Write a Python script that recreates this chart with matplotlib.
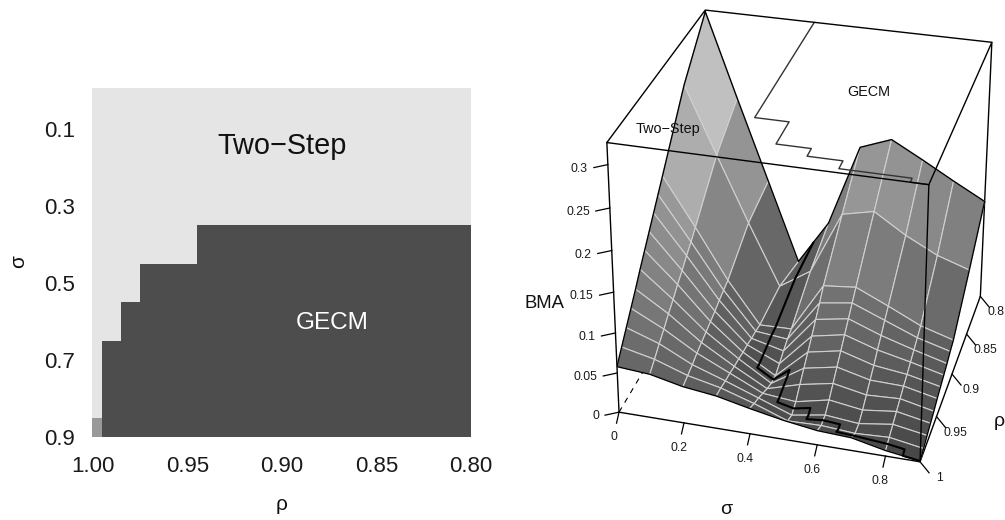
import numpy as np
import matplotlib
matplotlib.use("Agg")
import matplotlib.pyplot as plt
from matplotlib.colors import ListedColormap
from matplotlib.patches import Polygon

plt.rcParams['font.family'] = ['Liberation Sans', 'DejaVu Sans']

# left panel: winner map
rho_map = [1.00, 0.99, 0.98, 0.97, 0.96, 0.95, 0.94, 0.93, 0.92, 0.91, 0.90,
           0.89, 0.88, 0.87, 0.86, 0.85, 0.84, 0.83, 0.82, 0.81, 0.80]
sigma_map = [0.0, 0.1, 0.2, 0.3, 0.4, 0.5, 0.6, 0.7, 0.8, 0.9]
two_step_cols = [21, 21, 21, 21, 6, 3, 2, 1, 1, 1]  # columns won by Two-Step in each sigma row
mixed_cell = (9, 0)
map_ticks_rho = [1.00, 0.95, 0.90, 0.85, 0.80]
map_ticks_sigma = [0.1, 0.3, 0.5, 0.7, 0.9]

# right panel: BMA surface
sigma_grid = [0.0, 0.1, 0.2, 0.3, 0.4, 0.5, 0.6, 0.7, 0.8, 0.9]
rho_grid = [1.00, 0.99, 0.98, 0.97, 0.96, 0.95, 0.94, 0.93, 0.92, 0.91, 0.90, 0.85, 0.80]
bma = [
    [.058, .072, .086, .100, .114, .129, .143, .157, .171, .185, .199, .270, .323],
    [.055, .063, .072, .080, .089, .097, .106, .114, .123, .131, .140, .187, .218],
    [.046, .049, .052, .056, .059, .062, .065, .068, .072, .075, .078, .105, .115],
    [.041, .040, .038, .037, .035, .034, .032, .031, .029, .028, .026, .027, .012],
    [.032, .027, .023, .018, .013, .009, .008, .013, .019, .024, .027, .053, .070],
    [.024, .012, .008, .014, .025, .035, .045, .055, .066, .077, .089, .133, .175],
    [.018, .013, .015, .023, .033, .043, .053, .063, .073, .083, .093, .142, .190],
    [.016, .010, .011, .017, .025, .033, .041, .050, .058, .067, .075, .117, .169],
    [.007, .012, .017, .022, .027, .032, .036, .041, .046, .051, .056, .097, .147],
    [.001, .005, .010, .014, .018, .023, .027, .031, .035, .040, .044, .084, .126],
]
z_top = 0.325
boundary_sigma = [.35, .35, .45, .45, .55, .55, .65, .65, .85, .85, .90]
boundary_rho = [.80, .945, .945, .975, .975, .985, .985, .995, .995, 1.0, 1.0]
sigma_ticks = [0, 0.2, 0.4, 0.6, 0.8]
rho_ticks = [1, 0.95, 0.9, 0.85, 0.8]
z_ticks = [0, 0.05, 0.1, 0.15, 0.2, 0.25, 0.3]

# pixel positions of the box corners, used to fit the camera
box_3d = [(0, 1, 0), (.9, 1, 0), (.9, .8, 0), (0, .8, 0),
          (0, 1, z_top), (.9, 1, z_top), (.9, .8, z_top), (0, .8, z_top)]
box_px = [(620, 414), (920, 461), (980, 298), (710, 255),
          (606.7, 143), (928, 183), (993, 42.7), (705, 10.7)]

W, H = 1005, 520
fig = plt.figure(figsize=(W / 100, H / 100), dpi=100)

# ---- left panel
ax = fig.add_axes([92 / W, 1 - 437 / H, 379 / W, 349 / H])
winner = np.ones((len(sigma_map), len(rho_map)))
for i, n in enumerate(two_step_cols):
    winner[i, :n] = 0
winner[mixed_cell] = 2
cmap = ListedColormap(['#e5e5e5', '#4d4d4d', '#999999'])
ax.pcolormesh(rho_map, sigma_map, winner, cmap=cmap, vmin=0, vmax=2, shading='nearest')
ax.set_xlim(1.0005, 0.8)
ax.set_ylim(0.9, -0.0065)
for s in ax.spines.values():
    s.set_visible(False)
ax.set_xticks(map_ticks_rho, ['%.2f' % v for v in map_ticks_rho])
ax.set_yticks(map_ticks_sigma, ['%.1f' % v for v in map_ticks_sigma])
ax.tick_params(length=0, labelsize=16, colors='#1a1a1a')
ax.tick_params(axis='x', pad=14)
ax.tick_params(axis='y', pad=12)
ax.text(0.9, 0.145, 'Two\u2212Step', fontsize=20.8, ha='center', va='center', color='#111111')
ax.text(0.8735, 0.603, 'GECM', fontsize=17.5, ha='center', va='center', color='white')

# ---- right panel, drawn in pixel coordinates after projecting
ov = fig.add_axes([0, 0, 1, 1], facecolor='none')
ov.set_xlim(0, W)
ov.set_ylim(H, 0)
ov.axis('off')

A = []
b = []
for (x, y, z), (u, v) in zip(box_3d, box_px):
    A.append([x, y, z, 1, 0, 0, 0, 0, -u * x, -u * y, -u * z])
    A.append([0, 0, 0, 0, x, y, z, 1, -v * x, -v * y, -v * z])
    b += [u, v]
p = np.linalg.lstsq(np.array(A, float), np.array(b, float), rcond=None)[0]
P = np.append(p, 1).reshape(3, 4)


def project(sig, rho, z):
    q = P @ np.array([sig, rho, z, 1.0])
    return q[0] / q[2], q[1] / q[2]


def line3d(sig, rho, z, **kw):
    pts = [project(a, b_, c) for a, b_, c in zip(sig, rho, z)]
    xs, ys = zip(*pts)
    ov.plot(xs, ys, solid_capstyle='round', **kw)


def z_at(sig, rho):
    col = [np.interp(sig, sigma_grid, [bma[i][j] for i in range(len(sigma_grid))])
           for j in range(len(rho_grid))]
    return np.interp(rho, rho_grid[::-1], col[::-1])


def shade(z):
    return str(np.clip(np.interp(z, [0.0, 0.065, 0.156, 0.2, 0.28], [0.27, 0.41, 0.58, 0.68, 0.80]), 0, 1))


box_kw = dict(color='black', lw=1.0, zorder=1)
line3d([0, .9, .9], [1, 1, .8], [0, 0, 0], **box_kw)
line3d([.9, .9], [.8, .8], [0, z_top], **box_kw)
line3d([0, 0], [1, 1], [0, z_top], **box_kw)
line3d([0, 0], [1, .8], [0, 0], color='black', lw=0.8, ls=(0, (5, 5)), zorder=1)

# facets back to front
order = 2
for j in range(len(rho_grid) - 2, -1, -1):
    for i in range(len(sigma_grid) - 1):
        corners = [(i, j), (i + 1, j), (i + 1, j + 1), (i, j + 1)]
        poly = [project(sigma_grid[a], rho_grid[c], bma[a][c]) for a, c in corners]
        mean_z = np.mean([bma[a][c] for a, c in corners])
        ov.add_patch(Polygon(poly, closed=True, facecolor=shade(mean_z), edgecolor='#d0d0d0',
                             lw=0.8, zorder=order, joinstyle='round'))
        order += 0.001

top = order + 1
# surface outline
nr, ns = len(rho_grid), len(sigma_grid)
out_s = list(sigma_grid) + [sigma_grid[-1]] * nr + sigma_grid[::-1] + [0] * nr
out_r = [rho_grid[-1]] * ns + rho_grid[::-1] + [rho_grid[0]] * ns + list(rho_grid)
out_z = [z_at(a, c) for a, c in zip(out_s, out_r)]
line3d(out_s, out_r, out_z, color='black', lw=1.0, zorder=top)

# boundary on the surface, broken at the grid lines
bs, br = [], []
for k in range(len(boundary_sigma) - 1):
    s0, s1 = boundary_sigma[k], boundary_sigma[k + 1]
    r0, r1 = boundary_rho[k], boundary_rho[k + 1]
    ts = [0.0, 1.0]
    for g in sigma_grid:
        if s0 != s1 and min(s0, s1) < g < max(s0, s1):
            ts.append((g - s0) / (s1 - s0))
    for g in rho_grid:
        if r0 != r1 and min(r0, r1) < g < max(r0, r1):
            ts.append((g - r0) / (r1 - r0))
    for t in sorted(ts):
        bs.append(s0 + t * (s1 - s0))
        br.append(r0 + t * (r1 - r0))
line3d(bs, br, [z_at(a, c) for a, c in zip(bs, br)], color='black', lw=1.5, zorder=top)

# box edges and top contour in front of the surface
line3d(boundary_sigma, boundary_rho, [z_top] * len(boundary_rho), color='#333333', lw=1.0, zorder=top + 1)
front_kw = dict(color='black', lw=1.0, zorder=top + 1)
line3d([0, .9, .9, 0, 0], [1, 1, .8, .8, 1], [z_top] * 5, **front_kw)
line3d([.9, .9], [1, 1], [0, z_top], **front_kw)

# ticks and labels
tick_kw = dict(color='black', lw=0.9, zorder=top + 1)
txt_kw = dict(fontsize=8.7, color='#1a1a1a', zorder=top + 2)
for v in z_ticks:
    x, y = project(0, 1, v)
    ov.plot([x, x - 14], [y, y + 3], **tick_kw)
    ov.text(x - 20, y + 4, '%g' % v, ha='right', va='center', **txt_kw)
for v in sigma_ticks:
    x, y = project(v, 1, 0)
    ov.plot([x, x - 2.5], [y, y + 11], **tick_kw)
    ov.text(x - 5, y + 25, '%g' % v, ha='center', va='center', **txt_kw)
for v in rho_ticks:
    x, y = project(.9, v, 0)
    ov.plot([x, x + 9], [y, y + 11], **tick_kw)
    ov.text(min(x + 19, 995.5), y + 16, '%g' % v, ha='center', va='center', **txt_kw)

ov.text(*project(.135, .973, z_top), 'Two\u2212Step', fontsize=10.4, ha='center', va='center', zorder=top + 2, color='#111111')
ov.text(*project(.62, .892, z_top), 'GECM', fontsize=10.4, ha='center', va='center', zorder=top + 2, color='#111111')
ov.text(545, 303, 'BMA', fontsize=13.3, ha='center', va='center', color='#111111')
ov.text(726, 510, '\u03c3', fontsize=14, ha='center', va='center', color='#111111')
ov.text(999, 422, '\u03c1', fontsize=14, ha='center', va='center', color='#111111')
ov.text(19, 262, '\u03c3', fontsize=15, rotation=90, ha='center', va='center', color='#111111')
ov.text(282, 505, '\u03c1', fontsize=15, ha='center', va='center', color='#111111')

fig.savefig('out.png', dpi=100)
